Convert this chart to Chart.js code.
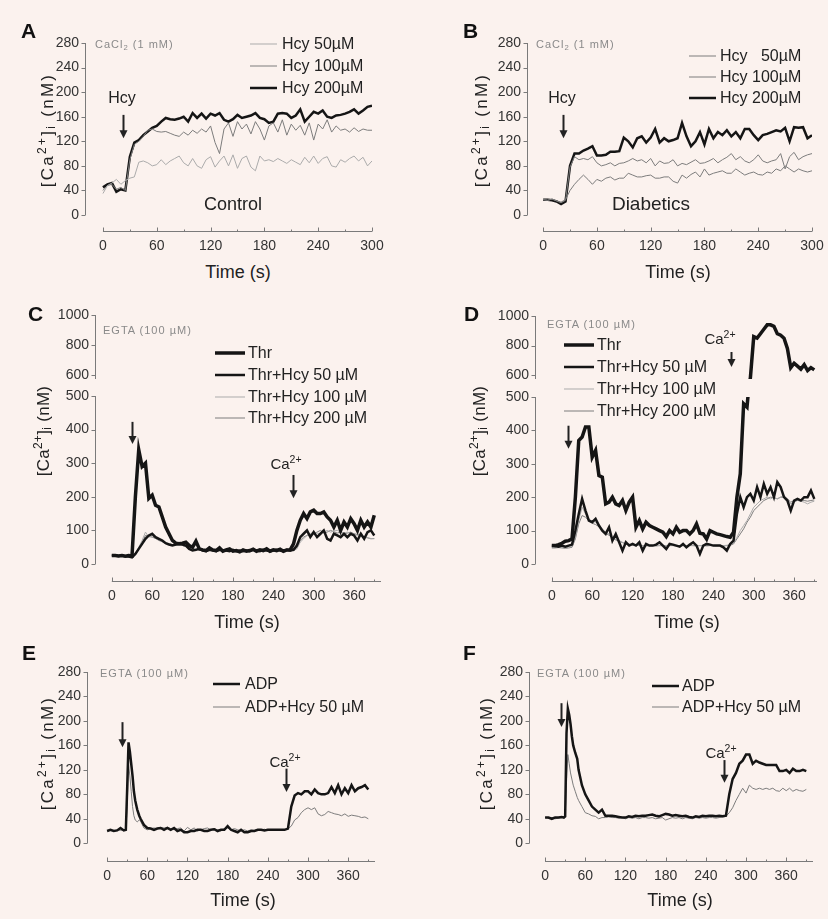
<!DOCTYPE html>
<html lang="en">
<head>
<meta charset="UTF-8">
<title>Ca2+ traces</title>
<script src="https://cdn.jsdelivr.net/npm/chart.js@4.4.1/dist/chart.umd.min.js"></script>
<style>
  body { margin: 0; background: #fff; }
  #fig { position: relative; width: 828px; height: 919px; background: #fbf2ee; overflow: hidden;
         font-family: "Liberation Sans", Arial, sans-serif; color: #222; }
  #fig canvas { position: absolute; }
  .t { position: absolute; line-height: 1; white-space: nowrap; }
  .t sup { font-size: 0.7em; vertical-align: 0.55em; line-height: 0; }
  .t sub { font-size: 0.7em; vertical-align: -0.2em; line-height: 0; }
</style>
</head>
<body>
<div id="fig"></div>
<script>
// ---- data ----
const tAB = [0,5,10,15,20,25,30,35,40,45,50,55,60,65,70,75,80,85,90,95,100,105,110,115,120,125,130,135,140,145,
  150,155,160,165,170,175,180,185,190,195,200,205,210,215,220,225,230,235,240,245,250,255,260,265,270,275,280,285,290,295,300];
const tCD = [0,5,10,15,20,25,30,35,40,45,50,55,60,65,70,75,80,85,90,95,100,105,110,115,120,125,130,135,140,145,
  150,155,160,165,170,175,180,185,190,195,200,205,210,215,220,225,230,235,240,245,250,255,260,265,270,275,280,285,290,295,
  300,305,310,315,320,325,330,335,340,345,350,355,360,365,370,375,380,385,390];
const tEF = [0,5,10,15,20,25,28,30,32,34,36,38,40,42,45,48,50,55,60,65,70,75,80,85,90,95,100,105,110,115,120,125,130,135,140,145,
  150,155,160,165,170,175,180,185,190,195,200,205,210,215,220,225,230,235,240,245,250,255,260,265,270,275,280,285,290,295,
  300,305,310,315,320,325,330,335,340,345,350,355,360,365,370,375,380,385,390];

const xTicks300 = [0,30,60,90,120,150,180,210,240,270,300];
const xTicks390 = [0,30,60,90,120,150,180,210,240,270,300,330,360,390];
const yTicks280 = [0,40,80,120,160,200,240,280];
const yTicksLow = [0,100,200,300,400,500];
const yTicksHigh = [600,800,1000];

// A: control
const a50 = [35,48,52,58,50,56,60,62,86,88, 85,80,82,90,82,88,92,96,85,80, 92,80,76,90,95,78,88,96,80,98,
  76,92,96,78,72,96,88,90,87,92, 88,84,90,86,82,94,85,96,84,92, 95,80,78,90,86,92,96,88,94,80, 88];
const a100 = [40,48,50,42,45,40,90,115,120,128, 138,140,136,135,136,133,130,128,135,130, 138,133,140,135,145,118,100,140,150,128,
  152,140,148,132,152,140,122,145,150,135, 155,130,148,138,146,130,150,122,148,140, 155,135,145,138,140,135,142,136,140,138, 138];
const a200 = [45,50,52,38,42,40,95,118,122,130, 136,142,145,152,158,156,155,157,160,152, 166,158,165,157,165,162,166,155,152,156,
  163,158,160,162,166,158,156,150,152,165, 166,165,158,162,172,152,160,168,165,170, 160,158,162,163,165,168,172,165,170,176, 178];

// B: diabetics
const b50 = [25,24,26,23,21,25,40,50,58,65, 58,50,58,55,60,62,57,60,60,68, 65,62,62,64,65,60,60,62,62,55,
  52,65,60,66,70,62,75,65,68,70, 72,68,68,75,70,65,68,70,66,65, 70,68,75,72,80,75,70,75,72,70, 72];
const b100 = [25,24,26,23,20,24,78,95,90,92, 90,95,85,80,82,85,80,84,85,88, 92,88,90,85,92,80,88,84,85,90,
  80,84,82,86,90,84,85,88,92,85, 90,94,100,90,95,88,85,90,98,88, 85,88,90,100,75,95,102,90,95,98, 100];
const b200 = [25,25,24,22,18,22,80,100,100,105, 108,112,97,97,98,103,103,104,126,120, 110,125,128,118,126,140,118,125,120,122,
  125,150,128,112,120,135,115,140,125,135, 130,138,128,135,125,140,140,130,122,130, 132,135,138,136,142,120,143,142,143,125, 130];

// C: thrombin, control
const cThr = [25,25,24,25,23,25,24,200,340,290, 300,195,205,175,170,140,110,90,70,62, 60,62,65,55,50,68,45,42,40,48,
  42,40,48,38,42,45,38,40,36,42, 38,40,44,38,42,40,45,38,42,40, 44,38,42,42,60,100,130,150,135,155,
  160,150,150,155,140,130,110,130,100,125, 110,135,120,100,130,110,125,110,145];
const cH50 = [25,25,24,25,23,22,20,30,45,60, 75,85,90,80,75,70,62,58,55,58, 60,58,55,45,40,42,45,40,38,42,
  40,38,42,40,40,38,42,38,40,38, 40,38,42,40,38,42,40,38,40,42, 40,38,42,40,42,55,80,90,100,80,
  95,80,90,100,75,70,90,85,80,90, 80,90,85,70,90,75,95,100,85];
const cH100 = [25,24,25,24,23,23,22,30,50,70, 95,80,85,78,72,68,62,60,58,56, 58,55,52,48,45,44,42,40,40,42,
  40,40,41,40,39,40,41,40,40,39, 40,39,41,40,40,41,40,39,40,41, 40,40,41,40,40,45,65,75,85,90,
  95,92,90,95,100,95,98,100,95,92, 95,90,88,85,82,80,78,76,75];
const cH200 = [26,25,24,25,24,23,22,28,48,65, 85,82,80,76,70,66,62,60,58,56, 56,55,52,50,46,45,43,42,41,42,
  41,40,40,41,40,40,40,41,40,40, 40,40,40,41,40,40,41,40,40,40, 41,40,40,41,40,50,70,80,85,88,
  90,95,100,92,95,100,96,92,95,90, 92,95,90,88,85,80,78,75,76];

// D: thrombin, diabetics
const dThr = [55,55,58,62,68,70,75,200,370,380, 410,410,320,340,265,260,180,185,200,180, 175,190,160,185,200,110,130,105,125,115,
  110,105,100,95,82,100,90,110,95,100, 100,90,100,120,92,90,75,100,95,90, 88,85,82,80,95,200,270,480,470,580,
  860,850,880,910,940,940,930,880,870,850, 780,650,680,660,640,670,630,650,635];
const dH50 = [55,54,52,55,52,55,58,100,150,195, 160,130,125,135,115,100,90,110,70,90, 65,40,65,55,60,55,65,40,60,55,
  55,58,65,55,45,60,58,55,52,60, 50,58,65,55,30,55,60,58,55,55, 55,50,40,60,70,150,200,170,200,210,
  190,230,200,240,210,230,200,245,230,200, 190,160,190,195,190,200,200,220,195];
const dH100 = [50,50,49,50,49,50,52,80,130,170, 150,135,128,125,118,105,95,90,80,75, 70,65,62,60,58,57,56,55,55,55,
  55,56,55,55,55,55,56,55,55,55, 55,56,55,55,55,55,56,55,55,55, 55,55,56,58,62,80,100,115,130,150,
  170,180,190,195,200,195,200,195,200,205, 195,180,185,190,188,185,180,185,188];
const dH200 = [48,48,49,48,47,48,50,75,120,145, 140,130,122,118,112,100,92,86,78,72, 68,64,60,58,57,56,55,55,54,55,
  55,54,55,55,54,55,55,54,55,55, 54,55,55,54,55,55,54,55,55,54, 55,54,55,56,60,75,90,105,125,140,
  160,170,180,190,195,200,198,195,200,200, 195,185,190,195,192,190,188,190,192];

// E: ADP, control
const eAdp = [20,22,20,21,25,21,22,90,165,150,130,110,85,70,55,45,
  40,30,25,24,22,24,25,22,25,22, 25,20,22,18,18,20,20,22,22,20, 20,22,23,20,22,22,28,22,20,18,
  22,18,18,20,20,22,22,21,22,22, 22,22,22,22,24,60,78,82,80,85, 85,80,88,82,80,80,82,92,82,95,
  80,90,82,95,85,90,92,95,88];
const eH50 = [20,21,20,22,21,22,22,60,130,110,85,60,45,38,35,38,
  36,25,22,24,25,24,26,25,26,24, 22,24,25,20,26,22,25,20,22,24, 25,22,24,22,20,24,25,22,24,22,
  20,22,20,22,21,22,22,23,21,22, 22,21,22,22,24,28,38,42,50,55, 58,55,58,48,45,47,52,50,48,47,
  45,48,44,46,45,44,42,43,40];

// F: ADP, diabetics
const fAdp = [42,42,40,42,42,43,42,44,180,220,210,195,175,160,148,138,
  120,95,80,70,60,55,50,55,45,45, 45,44,43,42,42,44,43,45,44,45, 45,46,47,45,44,46,48,47,45,46,
  45,44,45,43,42,44,43,45,44,45, 45,44,45,44,45,80,105,115,130,135, 145,145,130,135,132,130,128,128,128,128,
  118,118,120,115,122,118,118,120,118];
const fH50 = [42,41,42,40,41,42,42,44,100,145,130,115,105,95,85,75,
  70,60,50,48,45,44,40,42,42,43, 42,42,41,42,40,42,41,42,40,42, 42,41,42,40,41,42,38,40,42,41,
  42,40,42,41,40,42,41,42,41,42, 42,41,42,43,44,50,58,70,80,90, 82,95,90,88,90,88,90,88,90,86,
  85,90,86,90,85,88,86,85,88];

// ---- drawing ----
const fig = document.getElementById('fig');
const FONT = '"Liberation Sans", Arial, sans-serif';

function txt(html, x, base, size, o = {}) {
  const d = document.createElement('div');
  d.className = 't';
  d.innerHTML = html;
  d.style.fontSize = size + 'px';
  d.style.left = x + 'px';
  d.style.top = (base - 0.846 * size) + 'px';
  if (o.center) d.style.transform = 'translateX(-50%)';
  if (o.bold) d.style.fontWeight = 'bold';
  if (o.color) d.style.color = o.color;
  if (o.ls) d.style.letterSpacing = o.ls + 'px';
  fig.appendChild(d);
}
function ytitle(cx, cy, ls) {
  const d = document.createElement('div');
  d.className = 't';
  d.innerHTML = '[Ca<sup>2+</sup>]<sub>i</sub> (nM)';
  d.style.fontSize = '17px';
  d.style.letterSpacing = ls + 'px';
  d.style.left = cx + 'px';
  d.style.top = cy + 'px';
  d.style.transform = 'translate(-50%,-50%) rotate(-90deg)';
  fig.appendChild(d);
}

const axesPlugin = {
  id: 'panelAxes',
  afterDraw(chart, args, o) {
    const { ctx, chartArea: a, scales: { x, y } } = chart;
    ctx.save();
    ctx.strokeStyle = '#7a7a7a';
    ctx.lineWidth = 1;
    ctx.beginPath();
    const L = Math.round(a.left) + 0.5;
    ctx.moveTo(L, y.getPixelForValue(o.yFrom));
    ctx.lineTo(L, y.getPixelForValue(o.yTo));
    y.ticks.forEach(t => {
      const p = Math.round(y.getPixelForValue(t.value)) + 0.5;
      ctx.moveTo(L - 4, p); ctx.lineTo(L, p);
    });
    if (o.showX) {
      const B = Math.round(a.bottom) + 0.5;
      ctx.moveTo(x.getPixelForValue(o.xFrom), B);
      ctx.lineTo(x.getPixelForValue(o.xTo), B);
      x.ticks.forEach(t => {
        const p = Math.round(x.getPixelForValue(t.value)) + 0.5;
        ctx.moveTo(p, B); ctx.lineTo(p, B - (t.value % 60 === 0 ? 4 : 2));
      });
    }
    ctx.stroke();
    ctx.restore();
  }
};

const arrowPlugin = {
  id: 'panelArrows',
  afterDatasetsDraw(chart, args, o) {
    if (!o.list) return;
    const { ctx, scales: { x, y } } = chart;
    ctx.save();
    ctx.strokeStyle = ctx.fillStyle = '#222';
    ctx.lineWidth = 2;
    o.list.forEach(a => {
      const px = Math.round(x.getPixelForValue(a.t)) + 0.5;
      const y0 = y.getPixelForValue(a.from), y1 = y.getPixelForValue(a.to);
      ctx.beginPath(); ctx.moveTo(px, y0); ctx.lineTo(px, y1 - 6); ctx.stroke();
      ctx.beginPath(); ctx.moveTo(px - 4, y1 - 8); ctx.lineTo(px + 4, y1 - 8); ctx.lineTo(px, y1); ctx.closePath(); ctx.fill();
    });
    ctx.restore();
  }
};

const legendPlugin = {
  id: 'panelLegend',
  afterDraw(chart, args, o) {
    if (!o.rows) return;
    const ctx = chart.ctx;
    ctx.save();
    ctx.font = '16px ' + FONT;
    ctx.textBaseline = 'middle';
    ctx.fillStyle = '#222';
    chart.data.datasets.forEach((ds, i) => {
      const yy = o.rows[i] - o.oy;
      ctx.strokeStyle = ds.borderColor;
      ctx.lineWidth = ds.borderWidth;
      ctx.beginPath(); ctx.moveTo(o.x0 - o.ox, yy); ctx.lineTo(o.x1 - o.ox, yy); ctx.stroke();
      ctx.fillText(ds.label, o.tx - o.ox, yy + 1);
    });
    ctx.restore();
  }
};

function series(label, times, vals, color, width) {
  return { label, data: times.map((t, i) => ({ x: t, y: vals[i] })), borderColor: color, borderWidth: width,
           pointRadius: 0, tension: 0, fill: false, clip: 0 };
}

function makeChart(c) {
  const padL = 60, padR = 30, padT = c.padT || 16, padB = 30;
  const w = c.area.r - c.area.l + padL + padR;
  const h = c.area.b - c.area.t + padT + padB;
  const left = c.area.l - padL, top = c.area.t - padT;
  const cv = document.createElement('canvas');
  cv.width = w; cv.height = h;
  cv.style.width = w + 'px'; cv.style.height = h + 'px';
  cv.style.left = left + 'px'; cv.style.top = top + 'px';
  fig.appendChild(cv);
  const tickFont = { family: FONT, size: 14 };
  const legend = c.legend ? Object.assign({ ox: left, oy: top }, c.legend) : {};
  return new Chart(cv, {
    type: 'line',
    data: { datasets: c.datasets },
    plugins: [axesPlugin, arrowPlugin, legendPlugin],
    options: {
      responsive: false,
      animation: false,
      events: [],
      layout: { padding: { left: 0, top: padT, right: padR, bottom: c.showX ? 0 : padB } },
      scales: {
        x: {
          type: 'linear', display: !!c.showX, min: c.x[0], max: c.x[1],
          afterFit: s => { s.height = c.showX ? padB : 0; },
          afterBuildTicks: s => { s.ticks = c.xTicks.map(v => ({ value: v })); },
          grid: { display: false, drawTicks: false }, border: { display: false },
          ticks: { autoSkip: false, maxRotation: 0, padding: 7, color: '#333', font: tickFont,
                   callback: v => (v % 60 === 0 ? String(v) : '') }
        },
        y: {
          type: 'linear', min: c.y[0], max: c.y[1],
          afterFit: s => { s.width = padL; },
          afterBuildTicks: s => { s.ticks = c.yTicks.map(v => ({ value: v })); },
          grid: { display: false, drawTicks: false }, border: { display: false },
          ticks: { autoSkip: false, padding: 6, color: '#333', font: tickFont, callback: v => String(v) }
        }
      },
      plugins: {
        legend: { display: false }, tooltip: { enabled: false },
        panelAxes: { yFrom: c.axis[0], yTo: c.axis[1], xFrom: 0, xTo: c.xEnd, showX: !!c.showX },
        panelArrows: { list: c.arrows },
        panelLegend: legend
      }
    }
  });
}

const BLACK = '#151515', MID = '#7c7c7c', LIGHT = '#ababab';

// Panel A
makeChart({ area: { l: 85, r: 372, t: 43, b: 231 }, x: [-20, 300], y: [-26, 280], xTicks: xTicks300, yTicks: yTicks280,
  axis: [0, 280], xEnd: 300, showX: true,
  datasets: [series('Hcy 50\u00b5M', tAB, a50, LIGHT, 1), series('Hcy 100\u00b5M', tAB, a100, MID, 1),
             series('Hcy 200\u00b5M', tAB, a200, BLACK, 2.5)],
  legend: { x0: 250, x1: 277, tx: 282, rows: [44, 66, 88] },
  arrows: [{ t: 22, from: 163, to: 125 }] });

// Panel B
makeChart({ area: { l: 527, r: 812, t: 43, b: 231 }, x: [-18, 300], y: [-26, 280], xTicks: xTicks300, yTicks: yTicks280,
  axis: [0, 280], xEnd: 300, showX: true,
  datasets: [series('Hcy   50\u00b5M', tAB, b50, MID, 1), series('Hcy 100\u00b5M', tAB, b100, MID, 1),
             series('Hcy 200\u00b5M', tAB, b200, BLACK, 2.5)],
  legend: { x0: 689, x1: 716, tx: 720, rows: [56, 77, 98] },
  arrows: [{ t: 22, from: 163, to: 125 }] });

// Panel C (broken axis: upper + lower)
const cSets = () => [series('Thr', tCD, cThr, BLACK, 3.5), series('Thr+Hcy 50 \u00b5M', tCD, cH50, BLACK, 2.5),
  series('Thr+Hcy 100 \u00b5M', tCD, cH100, LIGHT, 1), series('Thr+Hcy 200 \u00b5M', tCD, cH200, MID, 1)];
makeChart({ area: { l: 95, r: 381, t: 315, b: 379 }, x: [-25, 400], y: [573, 1000], xTicks: xTicks390, yTicks: yTicksHigh,
  axis: [573, 1000], xEnd: 400, showX: false, datasets: cSets() });
makeChart({ area: { l: 95, r: 381, t: 396, b: 581 }, padT: 80, x: [-25, 400], y: [-50.6, 500], xTicks: xTicks390, yTicks: yTicksLow,
  axis: [0, 500], xEnd: 400, showX: true, datasets: cSets(),
  legend: { x0: 215, x1: 245, tx: 248, rows: [353, 375, 397, 418] },
  arrows: [{ t: 30, from: 423, to: 357 }, { t: 269, from: 265, to: 196 }] });

// Panel D
const dSets = () => [series('Thr', tCD, dThr, BLACK, 3.5), series('Thr+Hcy 50 \u00b5M', tCD, dH50, BLACK, 2.5),
  series('Thr+Hcy 100 \u00b5M', tCD, dH100, LIGHT, 1), series('Thr+Hcy 200 \u00b5M', tCD, dH200, MID, 1)];
makeChart({ area: { l: 535, r: 817, t: 316, b: 379 }, x: [-25, 394], y: [573, 1000], xTicks: xTicks390, yTicks: yTicksHigh,
  axis: [573, 1000], xEnd: 394, showX: false, datasets: dSets(),
  arrows: [{ t: 266, from: 756, to: 654 }] });
makeChart({ area: { l: 535, r: 817, t: 397, b: 581 }, padT: 80, x: [-25, 394], y: [-51, 500], xTicks: xTicks390, yTicks: yTicksLow,
  axis: [0, 500], xEnd: 394, showX: true, datasets: dSets(),
  legend: { x0: 564, x1: 594, tx: 597, rows: [345, 367, 389, 411] },
  arrows: [{ t: 24, from: 414, to: 345 }] });

// Panel E
makeChart({ area: { l: 87, r: 375, t: 672, b: 861 }, x: [-30, 400], y: [-29, 280], xTicks: xTicks390, yTicks: yTicks280,
  axis: [0, 280], xEnd: 400, showX: true,
  datasets: [series('ADP', tEF, eAdp, BLACK, 2.5), series('ADP+Hcy 50 \u00b5M', tEF, eH50, MID, 1)],
  legend: { x0: 213, x1: 240, tx: 245, rows: [684, 707] },
  arrows: [{ t: 23, from: 198, to: 157 }, { t: 267, from: 122, to: 84 }] });

// Panel F
makeChart({ area: { l: 529, r: 813, t: 672, b: 861 }, x: [-24, 400], y: [-29, 280], xTicks: xTicks390, yTicks: yTicks280,
  axis: [0, 280], xEnd: 400, showX: true,
  datasets: [series('ADP', tEF, fAdp, BLACK, 2.5), series('ADP+Hcy 50 \u00b5M', tEF, fH50, MID, 1)],
  legend: { x0: 652, x1: 679, tx: 682, rows: [686, 707] },
  arrows: [{ t: 24, from: 229, to: 190 }, { t: 267, from: 136, to: 99 }] });

// ---- text ----
const GRAY = '#8a8a8a';
[['A', 21, 38], ['B', 463, 38], ['C', 28, 321], ['D', 464, 321], ['E', 22, 660], ['F', 463, 660]]
  .forEach(([s, x, b]) => txt(s, x, b, 21, { bold: true, color: '#111' }));

txt('CaCl<sub>2</sub> (1 mM)', 95, 48, 11, { color: GRAY, ls: 1 });
txt('CaCl<sub>2</sub> (1 mM)', 536, 48, 11, { color: GRAY, ls: 1 });
txt('EGTA (100 \u00b5M)', 103, 334, 11, { color: GRAY, ls: 1 });
txt('EGTA (100 \u00b5M)', 547, 328, 11, { color: GRAY, ls: 1 });
txt('EGTA (100 \u00b5M)', 100, 677, 11, { color: GRAY, ls: 1 });
txt('EGTA (100 \u00b5M)', 537, 677, 11, { color: GRAY, ls: 1 });

txt('Hcy', 122, 104, 16, { center: true });
txt('Hcy', 562, 104, 16, { center: true });
txt('Control', 233, 210, 18, { center: true });
txt('Diabetics', 651, 210, 19, { center: true });

txt('Ca<sup>2+</sup>', 286, 469, 15, { center: true });
txt('Ca<sup>2+</sup>', 720, 344, 15, { center: true });
txt('Ca<sup>2+</sup>', 285, 767, 15, { center: true });
txt('Ca<sup>2+</sup>', 721, 758, 15, { center: true });

[[238, 278], [678, 278], [247, 628], [687, 628], [243, 906], [680, 906]]
  .forEach(([x, b]) => txt('Time (s)', x, b, 18, { center: true }));

ytitle(47, 130, 2.3); ytitle(481, 130, 2.3);
ytitle(43, 431, 0.3); ytitle(479, 431, 0.3);
ytitle(47, 753, 2.3); ytitle(486, 753, 2.3);
</script>
</body>
</html>
